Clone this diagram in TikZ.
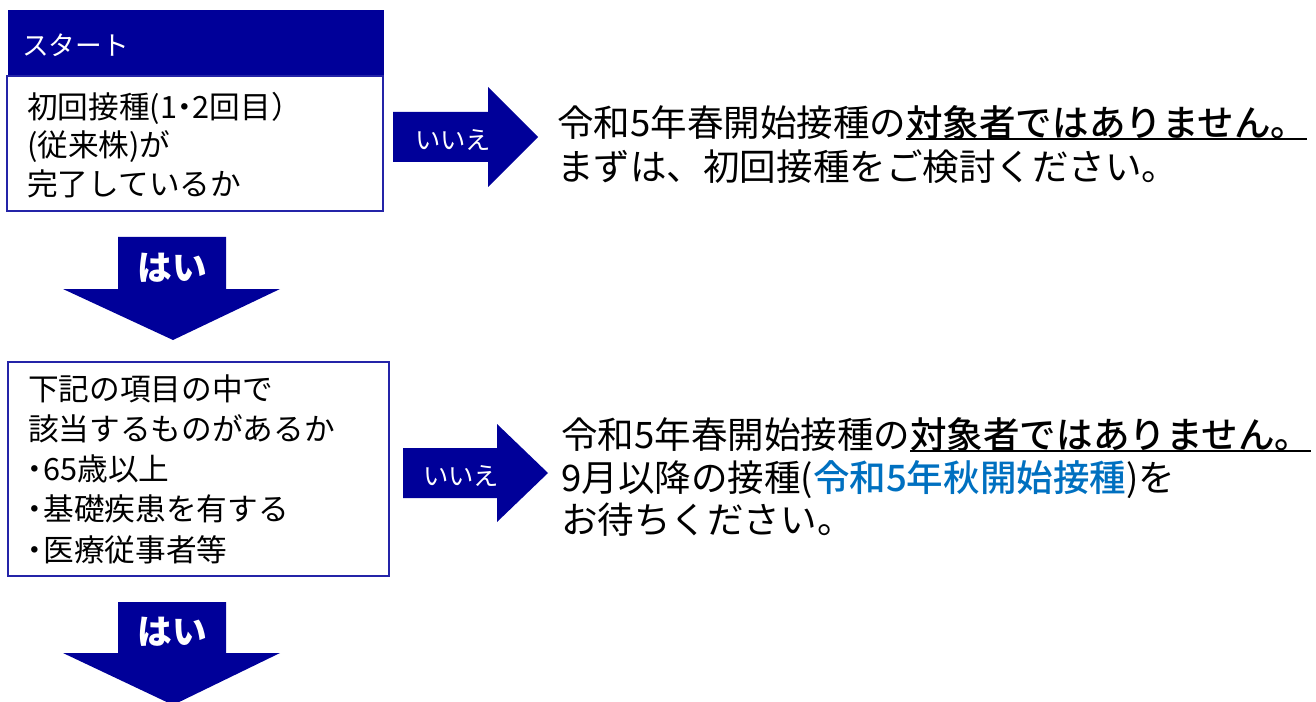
\documentclass[tikz,border=0pt]{standalone}
\usepackage{fontspec}
\newfontfamily\jp{Noto Sans CJK JP}
\newfontfamily\jpmed{Noto Sans CJK JP Medium}
\definecolor{navy}{HTML}{000099}
\definecolor{boxline}{HTML}{2424A8}
\definecolor{linkblue}{HTML}{0070C0}
\newcommand\myul[1]{\setbox0\hbox{#1}\rlap{\rule[-3pt]{\wd0}{1.5pt}}\box0}
\newcommand\nb{\hspace*{-0.3em}・\hspace{-0.2em}}
\tikzset{
  qbox/.style={draw=boxline, line width=1.5pt, fill=white},
  arrowfill/.style={fill=navy, draw=none},
  boxtext/.style={anchor=west, inner sep=0pt, align=left, font=\jp\fontsize{23}{29}\selectfont},
  restext/.style={anchor=west, inner sep=0pt, align=left, font=\jp\fontsize{27.4}{31}\selectfont},
  nolabel/.style={text=white, inner sep=0pt, font=\jp\fontsize{19}{22}\selectfont},
  yeslabel/.style={text=white, inner sep=0pt, font=\jp\bfseries\fontsize{26}{30}\selectfont},
}
\begin{document}
\begin{tikzpicture}[x=0.75pt,y=-0.75pt]
\useasboundingbox (0,0) rectangle (1316,702);
\begin{scope}
\clip (0,0) rectangle (1316,702);
% start header
\fill[navy] (8,10) rectangle (384,76);
\node[anchor=west, text=white, inner sep=0pt, font=\jp\fontsize{20}{24}\selectfont] (start) at (22,45) {スタート};
% box 1
\draw[qbox] (7,76) rectangle (383,211);
\node[boxtext] (q1) at (27,145) {初回接種(1\kern-0.25em・\kern-0.25em2回目）\\(従来株)が\\完了しているか};
% arrow right 1
\fill[arrowfill] (393,112) -- (488,112) -- (488,87) -- (538,137) -- (488,187) -- (488,162) -- (393,162) -- cycle;
\node[nolabel] (no1) at (453,140) {いいえ};
% result 1
\node[restext] (r1) at (557,144.5) {令和5年春開始接種の\myul{\jpmed 対象者ではありません。}\\[2pt]まずは、初回接種をご検討ください。};
% down arrow 1
\fill[arrowfill] (118,237) -- (226,237) -- (226,289) -- (280,289) -- (173,340) -- (63,289) -- (118,289) -- cycle;
\node[yeslabel] (yes1) at (172,268) {はい};
% box 2
\draw[qbox] (8,362) rectangle (389,576);
\node[boxtext, font=\jp\fontsize{23}{30.2}\selectfont] (q2) at (28,469) {下記の項目の中で\\該当するものがあるか\\\nb 65歳以上\\\nb 基礎疾患を有する\\\nb 医療従事者等};
% arrow right 2
\fill[arrowfill] (403,448) -- (497,448) -- (497,424) -- (548,473) -- (497,522) -- (497,498) -- (403,498) -- cycle;
\node[nolabel] (no2) at (461,476) {いいえ};
% result 2
\node[restext, font=\jp\fontsize{27.4}{32}\selectfont] (r2) at (561,477) {令和5年春開始接種の\myul{\jpmed 対象者ではありません。}\\9月以降の接種({\jpmed\color{linkblue}令和5年秋開始接種})を\\お待ちください。};
% down arrow 2
\fill[arrowfill] (118,602) -- (226,602) -- (226,653) -- (280,653) -- (173,705) -- (63,653) -- (118,653) -- cycle;
\node[yeslabel] (yes2) at (172,632) {はい};
\end{scope}
\end{tikzpicture}
\end{document}
